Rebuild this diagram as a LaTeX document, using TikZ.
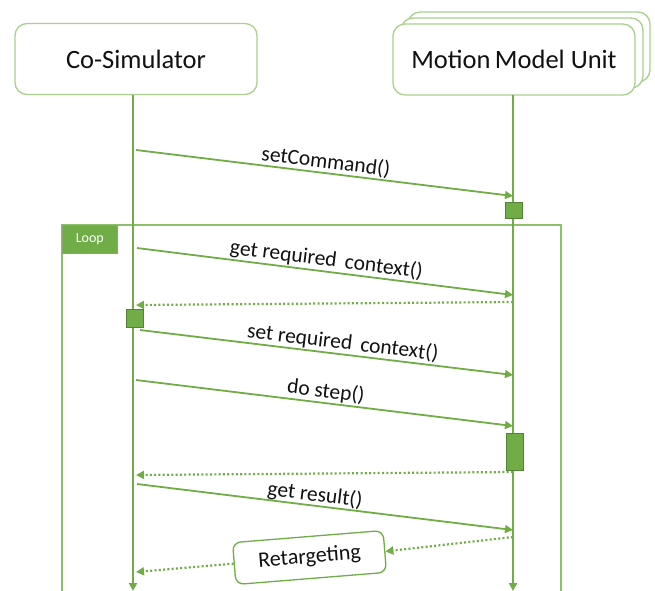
\documentclass[tikz,border=0pt]{standalone}
\usepackage{fontspec}
\setmainfont{Carlito}
\usetikzlibrary{arrows.meta}
\definecolor{lgreen}{HTML}{70AD47}
\definecolor{pgreen}{HTML}{A9D18E}
\definecolor{fgreen}{HTML}{8CC06A}
\definecolor{dgreen}{HTML}{548235}
\definecolor{txt}{HTML}{111111}

\begin{document}
\begin{tikzpicture}[x=1pt,y=-1pt,
  actor/.style={draw=pgreen, line width=1.3pt, rounded corners=12pt, fill=white,
    minimum width=242pt, minimum height=71pt, text=txt,
    font=\fontsize{26.5}{30}\selectfont},
  tip/.style={-{Triangle[length=8pt,width=8pt]}},
  lifeline/.style={draw=lgreen, line width=2pt, tip},
  msg/.style={draw=lgreen, line width=1.8pt, tip},
  reply/.style={draw=lgreen, line width=2.2pt, dash pattern=on 2pt off 2.3pt, tip},
  lbl/.style={font=\fontsize{21.5}{24}\selectfont, text=txt, sloped, above, inner sep=1pt},
  act/.style={draw=dgreen, fill=lgreen, line width=0.8pt, minimum width=17pt, inner sep=0pt},
]
\useasboundingbox (0,0) rectangle (655,590);
\clip (0,0) rectangle (655,590);

% participants
\node[actor] (cs) at (136,59) {Co-Simulator};
\node[actor, minimum height=70pt] (mmu3) at (529,47) {};
\node[actor, minimum height=70pt] (mmu2) at (522,53) {};
\node[actor] (mmu) at (514,59.5) {Motion\,Model Unit};

% loop frame
\draw[draw=fgreen, line width=1.2pt] (62,225) rectangle (561,600);
\node[draw=dgreen!70, fill=lgreen, line width=0.6pt, minimum width=55pt, minimum height=28pt,
  anchor=north west, inner sep=0pt, text=white, font=\fontsize{14}{16}\selectfont]
  (loop) at (62,225) {Loop};

% lifelines
\coordinate (csL) at (133,95);
\coordinate (csE) at (133,591);
\coordinate (mmL) at (513,95);
\coordinate (mmE) at (513,591);
\draw[lifeline] (csL) -- (csE);
\draw[lifeline] (mmL) -- (mmE);

% activations
\node[act, minimum height=16pt] (a1) at (514,210) {};
\node[act, minimum height=18pt] (a2) at (134.5,318) {};
\node[act, minimum height=37pt] (a3) at (514.5,451.5) {};

% message end points
\coordinate (m1s) at (136,150);  \coordinate (m1e) at (513,196);
\coordinate (m2s) at (137,248);  \coordinate (m2e) at (513,295);
\coordinate (r2s) at (513,302);  \coordinate (r2e) at (136,305);
\coordinate (m3s) at (140,330);  \coordinate (m3e) at (513,375);
\coordinate (m4s) at (136,380);  \coordinate (m4e) at (513,426);
\coordinate (r4s) at (513,472);  \coordinate (r4e) at (136,475);
\coordinate (m5s) at (137,484);  \coordinate (m5e) at (513,530);
\coordinate (r5s) at (513,537);
\coordinate (r6e) at (136,572);

\draw[msg] (m1s) -- node[lbl] {setCommand()} (m1e);
\draw[msg] (m2s) -- node[lbl] {get required\ \,context()} (m2e);
\draw[reply] (r2s) -- (r2e);
\draw[msg] (m3s) -- node[lbl, pos=0.54] {set required\ \,context()} (m3e);
\draw[msg] (m4s) -- node[lbl] {do step()} (m4e);
\draw[reply] (r4s) -- (r4e);
\draw[msg] (m5s) -- node[lbl, pos=0.47, inner sep=0pt] {get result()} (m5e);

% retargeting step
\node[draw=lgreen, line width=1.3pt, rounded corners=8pt, fill=white, rotate=4.6,
  minimum width=151pt, minimum height=42pt, inner sep=0pt, text=txt,
  font=\fontsize{22}{24}\selectfont]
  (ret) at (309.5,557.5) {Retargeting};
\draw[reply] (r5s) -- (ret.east);
\draw[reply] (ret.west) -- (r6e);
\end{tikzpicture}
\end{document}
